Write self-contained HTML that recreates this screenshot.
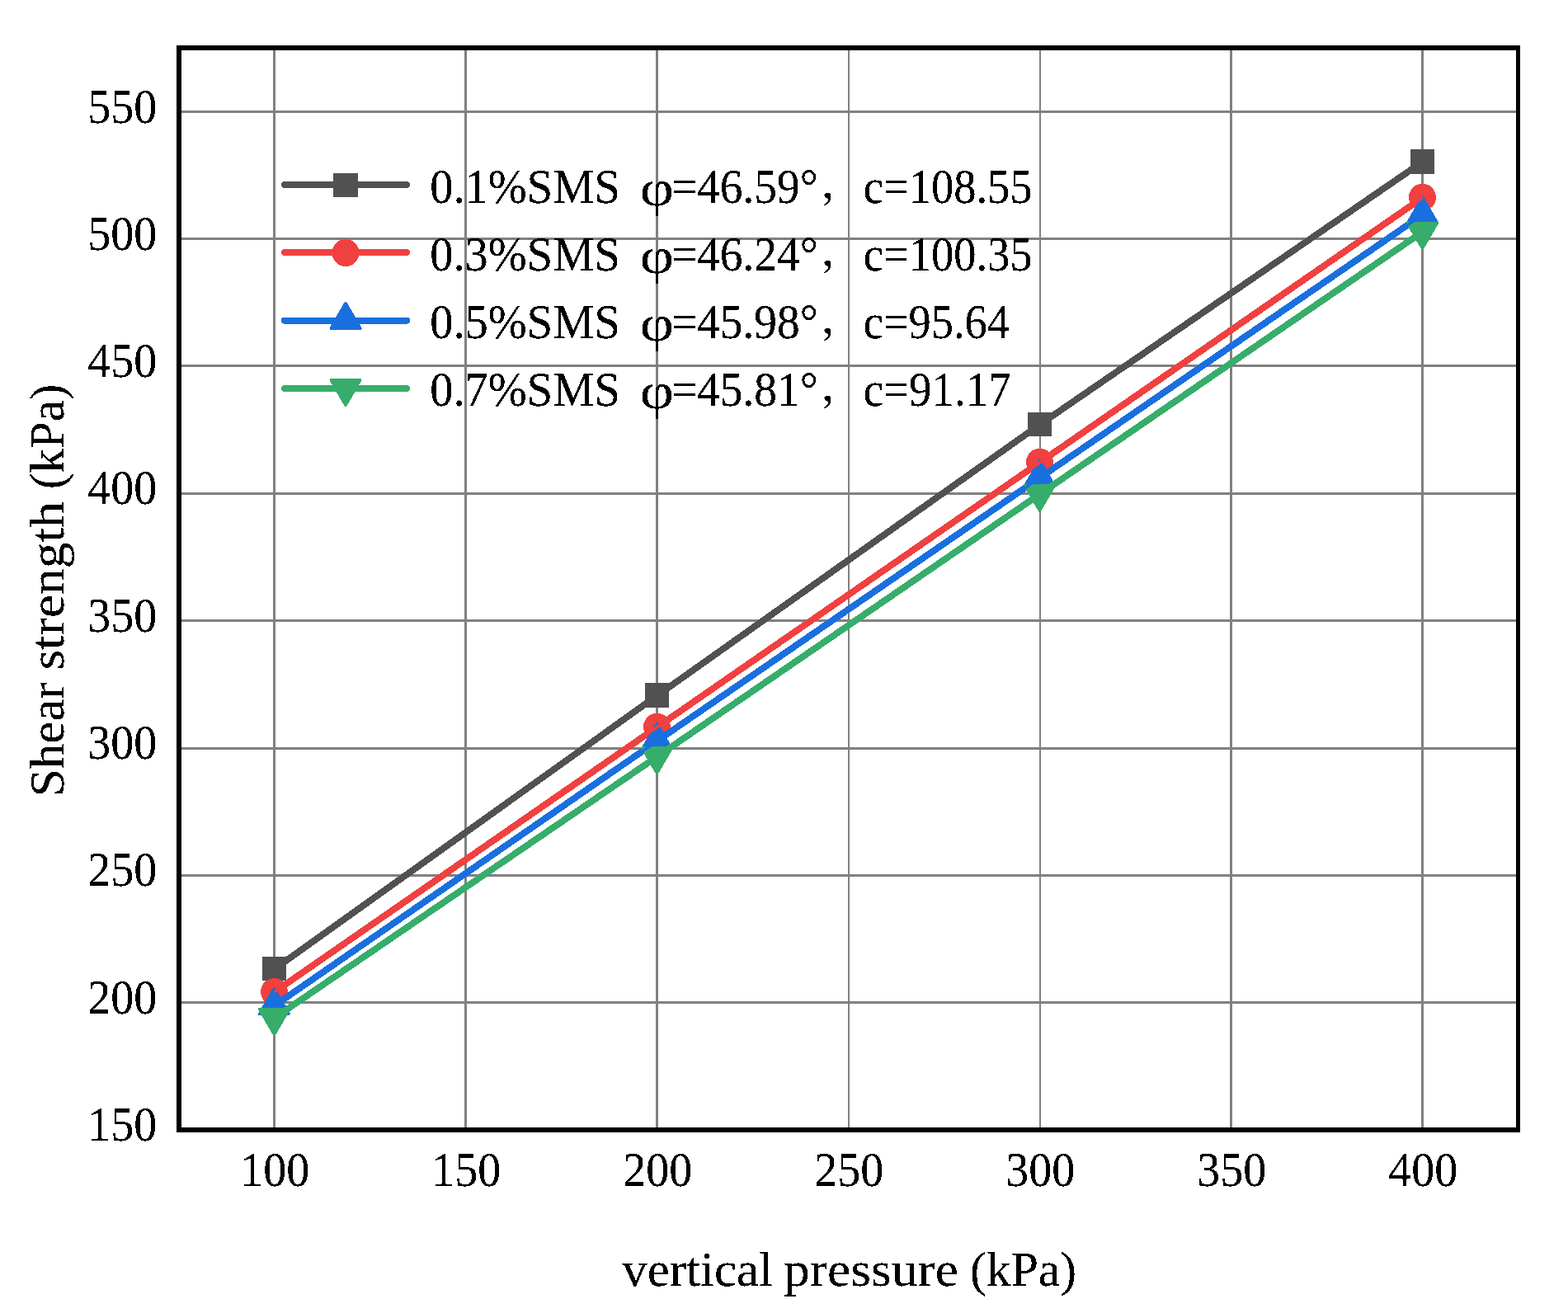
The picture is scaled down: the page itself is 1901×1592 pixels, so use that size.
<!DOCTYPE html>
<html lang="en">
<head>
<meta charset="utf-8">
<title>Shear strength vs vertical pressure</title>
<style>
html,body{margin:0;padding:0;background:#fff;}
body{width:1901px;height:1592px;overflow:hidden;}
svg{display:block;}
text{font-family:'Liberation Serif', 'Noto Serif CJK SC', serif;fill:#000;font-kerning:none;}
</style>
</head>
<body>
<svg xmlns="http://www.w3.org/2000/svg" width="1901" height="1592" viewBox="0 0 1901 1592">
<defs>
<filter id="crisp" x="0" y="0" width="1901" height="1592" filterUnits="userSpaceOnUse" color-interpolation-filters="sRGB">
<feComponentTransfer><feFuncA type="discrete" tableValues="0 0 1 1 1"/></feComponentTransfer>
</filter>
</defs>
<rect x="0" y="0" width="1901" height="1592" fill="#fff"/>
<g fill="#808080" shape-rendering="crispEdges">
<rect x="331" y="61" width="3" height="1306"/>
<rect x="563" y="61" width="3" height="1306"/>
<rect x="795" y="61" width="3" height="1306"/>
<rect x="1028" y="61" width="2" height="1306"/>
<rect x="1260" y="61" width="2" height="1306"/>
<rect x="1491" y="61" width="3" height="1306"/>
<rect x="1723" y="61" width="3" height="1306"/>
<rect x="220" y="134" width="1618" height="3"/>
<rect x="220" y="288" width="1618" height="3"/>
<rect x="220" y="442" width="1618" height="3"/>
<rect x="220" y="597" width="1618" height="3"/>
<rect x="220" y="751" width="1618" height="3"/>
<rect x="220" y="906" width="1618" height="3"/>
<rect x="220" y="1060" width="1618" height="3"/>
<rect x="220" y="1214" width="1618" height="3"/>
</g>
<g fill="#000" shape-rendering="crispEdges">
<rect x="214" y="55" width="1629" height="6"/>
<rect x="214" y="1367" width="1629" height="6"/>
<rect x="214" y="55" width="6" height="1318"/>
<rect x="1838" y="55" width="5" height="1318"/>
</g>
<g shape-rendering="crispEdges" fill="none">
<polyline points="332.80,1174.85 796.80,843.35 1260.80,514.65 1724.80,196.15" stroke="#515151" stroke-width="8.0" stroke-linejoin="round" stroke-linecap="butt"/>
<rect x="317.75" y="1159.85" width="29.5" height="29.5" fill="#515151"/>
<rect x="781.75" y="828.35" width="29.5" height="29.5" fill="#515151"/>
<rect x="1245.75" y="499.65" width="29.5" height="29.5" fill="#515151"/>
<rect x="1709.75" y="181.15" width="29.5" height="29.5" fill="#515151"/>
<polyline points="332.80,1202.75 796.80,881.55 1260.80,560.55 1724.80,239.55" stroke="#F14040" stroke-width="8.0" stroke-linejoin="round" stroke-linecap="butt"/>
<circle cx="332.50" cy="1202.50" r="16.5" fill="#F14040"/>
<circle cx="796.50" cy="881.30" r="16.5" fill="#F14040"/>
<circle cx="1260.50" cy="560.30" r="16.5" fill="#F14040"/>
<circle cx="1724.50" cy="239.30" r="16.5" fill="#F14040"/>
<polyline points="332.80,1219.35 796.80,898.35 1260.80,579.15 1724.80,260.25" stroke="#1A6FDF" stroke-width="8.0" stroke-linejoin="round" stroke-linecap="butt"/>
<polygon points="332.50,1198.97 350.15,1229.17 314.85,1229.17" fill="#1A6FDF" stroke="#1A6FDF" stroke-width="3.7" stroke-linejoin="round"/>
<polygon points="796.50,877.97 814.15,908.17 778.85,908.17" fill="#1A6FDF" stroke="#1A6FDF" stroke-width="3.7" stroke-linejoin="round"/>
<polygon points="1260.50,558.77 1278.15,588.97 1242.85,588.97" fill="#1A6FDF" stroke="#1A6FDF" stroke-width="3.7" stroke-linejoin="round"/>
<polygon points="1724.50,239.87 1742.15,270.07 1706.85,270.07" fill="#1A6FDF" stroke="#1A6FDF" stroke-width="3.7" stroke-linejoin="round"/>
<polyline points="332.80,1234.15 796.80,917.30 1260.80,599.05 1724.80,281.05" stroke="#37AD6B" stroke-width="8.0" stroke-linejoin="round" stroke-linecap="butt"/>
<polygon points="332.50,1254.03 350.15,1223.83 314.85,1223.83" fill="#37AD6B" stroke="#37AD6B" stroke-width="3.7" stroke-linejoin="round"/>
<polygon points="796.50,937.18 814.15,906.98 778.85,906.98" fill="#37AD6B" stroke="#37AD6B" stroke-width="3.7" stroke-linejoin="round"/>
<polygon points="1260.50,618.93 1278.15,588.73 1242.85,588.73" fill="#37AD6B" stroke="#37AD6B" stroke-width="3.7" stroke-linejoin="round"/>
<polygon points="1724.50,300.93 1742.15,270.73 1706.85,270.73" fill="#37AD6B" stroke="#37AD6B" stroke-width="3.7" stroke-linejoin="round"/>
<polyline points="332.80,1174.85 796.80,843.35 1260.80,514.65 1724.80,196.15" stroke="#515151" stroke-width="3.7" stroke-linejoin="round" stroke-linecap="butt"/>
<polyline points="332.80,1202.75 796.80,881.55 1260.80,560.55 1724.80,239.55" stroke="#F14040" stroke-width="3.7" stroke-linejoin="round" stroke-linecap="butt"/>
<polyline points="332.80,1219.35 796.80,898.35 1260.80,579.15 1724.80,260.25" stroke="#1A6FDF" stroke-width="3.7" stroke-linejoin="round" stroke-linecap="butt"/>
<polyline points="332.80,1234.15 796.80,917.30 1260.80,599.05 1724.80,281.05" stroke="#37AD6B" stroke-width="3.7" stroke-linejoin="round" stroke-linecap="butt"/>
</g>
<g shape-rendering="crispEdges">
<line x1="345.0" y1="224.00" x2="493.0" y2="224.00" stroke="#515151" stroke-width="8.0" stroke-linecap="round"/>
<rect x="404.25" y="209.55" width="29.5" height="29.5" fill="#515151"/>
<line x1="345.0" y1="306.20" x2="493.0" y2="306.20" stroke="#F14040" stroke-width="8.0" stroke-linecap="round"/>
<circle cx="419.00" cy="306.50" r="16.5" fill="#F14040"/>
<line x1="345.0" y1="388.60" x2="493.0" y2="388.60" stroke="#1A6FDF" stroke-width="8.0" stroke-linecap="round"/>
<polygon points="419.00,367.87 436.65,398.07 401.35,398.07" fill="#1A6FDF" stroke="#1A6FDF" stroke-width="3.7" stroke-linejoin="round"/>
<line x1="345.0" y1="470.90" x2="493.0" y2="470.90" stroke="#37AD6B" stroke-width="8.0" stroke-linecap="round"/>
<polygon points="419.00,491.03 436.65,460.83 401.35,460.83" fill="#37AD6B" stroke="#37AD6B" stroke-width="3.7" stroke-linejoin="round"/>
</g>
<g filter="url(#crisp)">
<text transform="translate(521.15,246.00) scale(1.0,1.06)" font-size="56" text-anchor="start" textLength="230.65" lengthAdjust="spacingAndGlyphs">0.1%SMS</text>
<text transform="translate(776.07,248.90) scale(1.0,1.096)" font-size="56" text-anchor="start" textLength="40.90" lengthAdjust="spacingAndGlyphs">φ</text>
<text transform="translate(813.94,246.00) scale(1.0,1.06)" font-size="56" text-anchor="start" textLength="177.86" lengthAdjust="spacingAndGlyphs">=46.59°</text>
<text transform="translate(994.60,238.50) scale(1.0,0.85)" font-size="56" text-anchor="start">，</text>
<text transform="translate(1046.72,246.00) scale(1.0,1.06)" font-size="56" text-anchor="start" textLength="204.91" lengthAdjust="spacingAndGlyphs">c=108.55</text>
<text transform="translate(521.15,328.00) scale(1.0,1.06)" font-size="56" text-anchor="start" textLength="230.65" lengthAdjust="spacingAndGlyphs">0.3%SMS</text>
<text transform="translate(776.07,330.90) scale(1.0,1.096)" font-size="56" text-anchor="start" textLength="40.90" lengthAdjust="spacingAndGlyphs">φ</text>
<text transform="translate(813.94,328.00) scale(1.0,1.06)" font-size="56" text-anchor="start" textLength="177.86" lengthAdjust="spacingAndGlyphs">=46.24°</text>
<text transform="translate(994.60,320.50) scale(1.0,0.85)" font-size="56" text-anchor="start">，</text>
<text transform="translate(1046.72,328.00) scale(1.0,1.06)" font-size="56" text-anchor="start" textLength="204.91" lengthAdjust="spacingAndGlyphs">c=100.35</text>
<text transform="translate(521.15,410.00) scale(1.0,1.06)" font-size="56" text-anchor="start" textLength="230.65" lengthAdjust="spacingAndGlyphs">0.5%SMS</text>
<text transform="translate(776.07,412.90) scale(1.0,1.096)" font-size="56" text-anchor="start" textLength="40.90" lengthAdjust="spacingAndGlyphs">φ</text>
<text transform="translate(813.94,410.00) scale(1.0,1.06)" font-size="56" text-anchor="start" textLength="177.86" lengthAdjust="spacingAndGlyphs">=45.98°</text>
<text transform="translate(994.60,402.50) scale(1.0,0.85)" font-size="56" text-anchor="start">，</text>
<text transform="translate(1046.73,410.00) scale(1.0,1.06)" font-size="56" text-anchor="start" textLength="177.32" lengthAdjust="spacingAndGlyphs">c=95.64</text>
<text transform="translate(521.15,492.00) scale(1.0,1.06)" font-size="56" text-anchor="start" textLength="230.65" lengthAdjust="spacingAndGlyphs">0.7%SMS</text>
<text transform="translate(776.07,494.90) scale(1.0,1.096)" font-size="56" text-anchor="start" textLength="40.90" lengthAdjust="spacingAndGlyphs">φ</text>
<text transform="translate(813.94,492.00) scale(1.0,1.06)" font-size="56" text-anchor="start" textLength="177.86" lengthAdjust="spacingAndGlyphs">=45.81°</text>
<text transform="translate(994.60,484.50) scale(1.0,0.85)" font-size="56" text-anchor="start">，</text>
<text transform="translate(1046.71,492.00) scale(1.0,1.06)" font-size="56" text-anchor="start" textLength="178.87" lengthAdjust="spacingAndGlyphs">c=91.17</text>
<text transform="translate(190.30,1382.79) scale(1.0,1.06)" font-size="56" text-anchor="end">150</text>
<text transform="translate(190.30,1228.50) scale(1.0,1.06)" font-size="56" text-anchor="end">200</text>
<text transform="translate(190.30,1074.21) scale(1.0,1.06)" font-size="56" text-anchor="end">250</text>
<text transform="translate(190.30,919.93) scale(1.0,1.06)" font-size="56" text-anchor="end">300</text>
<text transform="translate(190.30,765.64) scale(1.0,1.06)" font-size="56" text-anchor="end">350</text>
<text transform="translate(190.30,611.36) scale(1.0,1.06)" font-size="56" text-anchor="end">400</text>
<text transform="translate(190.30,457.07) scale(1.0,1.06)" font-size="56" text-anchor="end">450</text>
<text transform="translate(190.30,302.79) scale(1.0,1.06)" font-size="56" text-anchor="end">500</text>
<text transform="translate(190.30,148.50) scale(1.0,1.06)" font-size="56" text-anchor="end">550</text>
<text transform="translate(333.30,1438.20) scale(1.0,1.06)" font-size="56" text-anchor="middle">100</text>
<text transform="translate(565.30,1438.20) scale(1.0,1.06)" font-size="56" text-anchor="middle">150</text>
<text transform="translate(797.30,1438.20) scale(1.0,1.06)" font-size="56" text-anchor="middle">200</text>
<text transform="translate(1029.30,1438.20) scale(1.0,1.06)" font-size="56" text-anchor="middle">250</text>
<text transform="translate(1261.30,1438.20) scale(1.0,1.06)" font-size="56" text-anchor="middle">300</text>
<text transform="translate(1493.30,1438.20) scale(1.0,1.06)" font-size="56" text-anchor="middle">350</text>
<text transform="translate(1725.30,1438.20) scale(1.0,1.06)" font-size="56" text-anchor="middle">400</text>
<text transform="translate(754.20,1558.90) scale(1.0,1.06)" font-size="56" text-anchor="start" textLength="182.72" lengthAdjust="spacingAndGlyphs">vertical</text>
<text transform="translate(950.08,1558.90) scale(1.0,1.06)" font-size="56" text-anchor="start" textLength="211.83" lengthAdjust="spacingAndGlyphs">pressure</text>
<text transform="translate(1175.98,1558.90) scale(1.0,1.06)" font-size="56" text-anchor="start" textLength="129.14" lengthAdjust="spacingAndGlyphs">(kPa)</text>
<text transform="translate(76.50,966.29) rotate(-90) scale(1.0,1.06)" font-size="56" text-anchor="start" textLength="139.23" lengthAdjust="spacingAndGlyphs">Shear</text>
<text transform="translate(76.50,812.60) rotate(-90) scale(1.0,1.06)" font-size="56" text-anchor="start" textLength="204.54" lengthAdjust="spacingAndGlyphs">strength</text>
<text transform="translate(76.50,592.98) rotate(-90) scale(1.0,1.06)" font-size="56" text-anchor="start" textLength="127.37" lengthAdjust="spacingAndGlyphs">(kPa)</text>
</g>
</svg>
</body>
</html>
